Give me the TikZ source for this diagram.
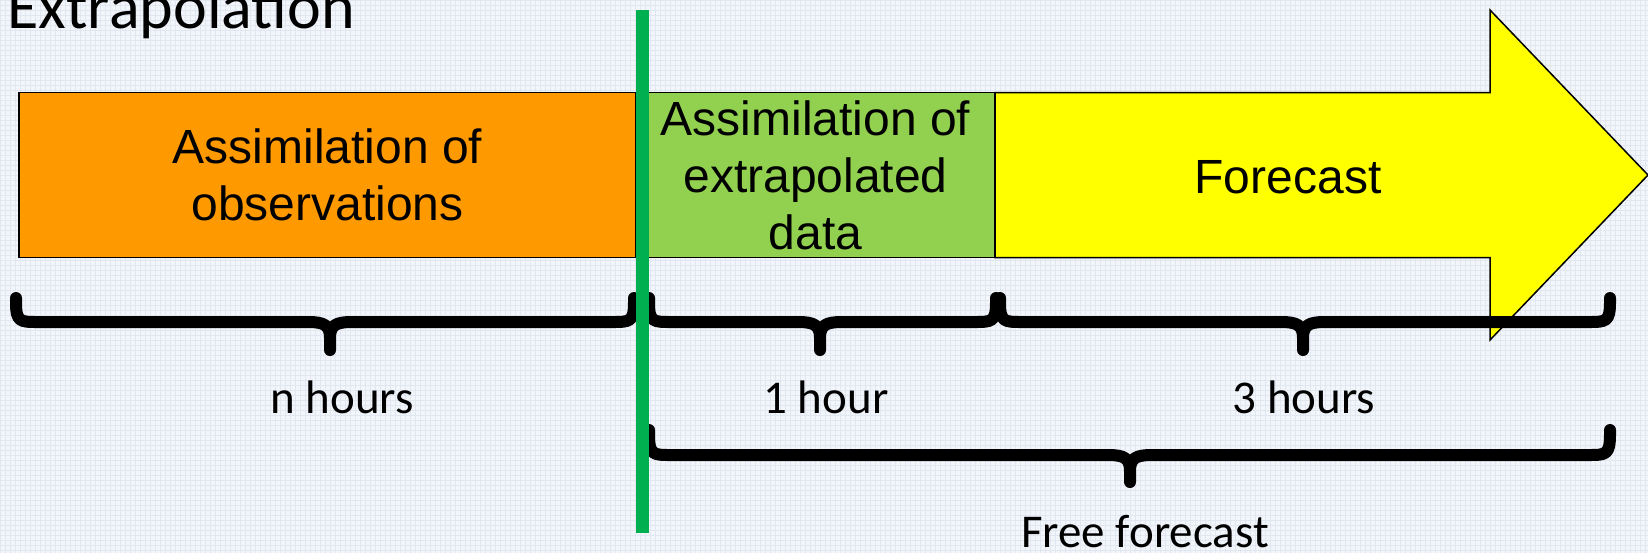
\documentclass[tikz,border=0pt]{standalone}
\usepackage{fontspec}
\setmainfont{Carlito}
\newfontfamily\arialf{Liberation Sans}
\definecolor{bgcol}{HTML}{F2F5FA}
\definecolor{gridcol}{HTML}{E1E7F1}
\definecolor{orangef}{HTML}{FF9900}
\definecolor{greenf}{HTML}{92D050}
\definecolor{yellowf}{HTML}{FFFF00}
\definecolor{greenl}{HTML}{00B050}
\newcommand\drawbrace[6]{% xL xM xR yT yB yP
  \draw[bracestyle] (#1,#4) -- (#1,#4+4) .. controls (#1,#5) and (#1+4,#5) .. (#1+22,#5) -- (#2-22,#5) .. controls (#2-6,#5) and (#2,#5+3) .. (#2,#5+16) -- (#2,#6)
    (#2,#6) -- (#2,#5+16) .. controls (#2,#5+3) and (#2+6,#5) .. (#2+22,#5) -- (#3-22,#5) .. controls (#3-4,#5) and (#3,#5) .. (#3,#4+4) -- (#3,#4);
}
\tikzset{
  bracestyle/.style={draw=black, line width=6pt, line cap=round, line join=round},
  boxline/.style={draw=black, line width=0.75pt},
  boxtext/.style={font=\arialf\fontsize{24}{28.5}\selectfont, align=center, text=black, inner sep=0pt},
  blockbox/.style={boxline, minimum height=82.5pt, inner sep=0pt, align=center, font=\arialf\fontsize{24}{28.5}\selectfont},
  lbl/.style={font=\fontsize{23.5}{28}\selectfont, anchor=base, inner sep=0pt},
}
\begin{document}
\begin{tikzpicture}[x=0.5pt, y=-0.5pt]
\useasboundingbox (0,0) rectangle (1648,553);
\fill[bgcol] (0,0) rectangle (1648,553);
\draw[gridcol, line width=0.3pt, step=2.5pt] (0,0) grid (1648,553);
% title
\node[anchor=base west, inner sep=0pt, font=\fontsize{32}{38}\selectfont] (title) at (7,28) {Extrapolation};
% yellow arrow
\draw[boxline, fill=yellowf] (995,92.5) -- (1490,92.5) -- (1490,10) -- (1648,175) -- (1490,340) -- (1490,257.5) -- (995,257.5) -- cycle;
\node[boxtext] (fc) at (1288,177) {Forecast};
% boxes
\node[blockbox, fill=orangef, minimum width=308.5pt] (obs) at (327.5,175) {Assimilation of\\observations};
\node[blockbox, fill=greenf, minimum width=179.5pt] (ext) at (815.5,175) {Assimilation of\\extrapolated\\data};
% braces
\drawbrace{16}{330}{634}{298}{322}{350}
\drawbrace{649}{820}{996}{298}{322}{350}
\drawbrace{1000}{1303}{1610}{298}{322}{350}
\drawbrace{649}{1130}{1610}{430}{455}{482}
% labels
\node[lbl] (nh) at (342,413) {n hours};
\node[lbl] (oh) at (826,413) {1 hour};
\node[lbl] (th) at (1304,413) {3 hours};
\node[lbl] (ff) at (1145,547) {Free forecast};
% green line
\coordinate (gtop) at (642,10);
\coordinate (gbot) at (642,533);
\draw[greenl, line width=6.5pt] (gtop) -- (gbot);
\end{tikzpicture}
\end{document}
